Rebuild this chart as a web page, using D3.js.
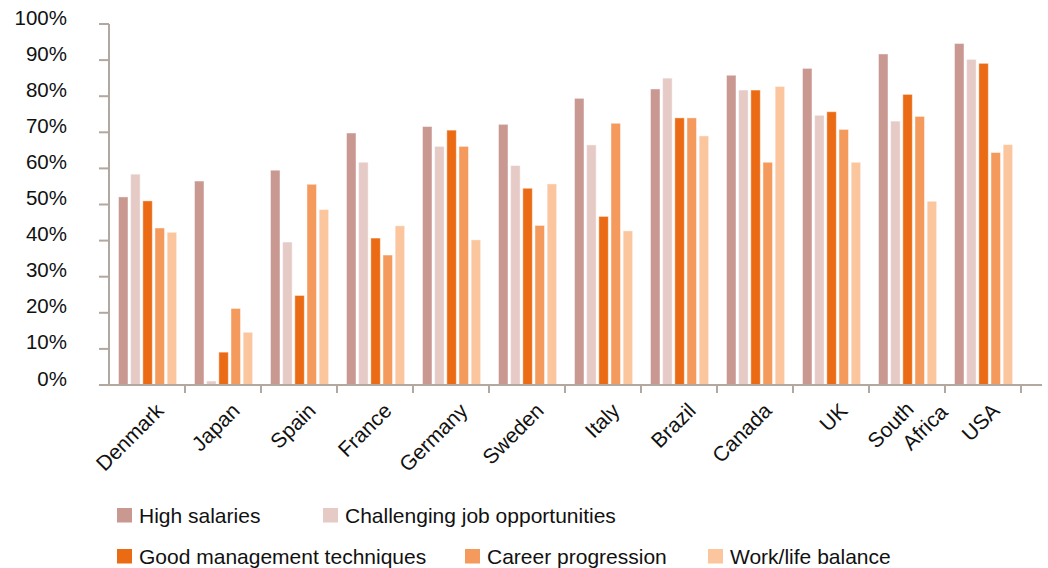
<!DOCTYPE html>
<html>
<head>
<meta charset="utf-8">
<script src="https://cdn.jsdelivr.net/npm/d3@7/dist/d3.min.js"></script>
<style>
  html, body { margin: 0; padding: 0; background: #fff; }
  svg { display: block; }
  text { font-family: "Liberation Sans", Arial, Helvetica, sans-serif; fill: #111; }
</style>
</head>
<body>
<svg id="chart" width="1048" height="568"></svg>
<script>
const categories = ["Denmark", "Japan", "Spain", "France", "Germany", "Sweden", "Italy", "Brazil", "Canada", "UK", "South Africa", "USA"];
const seriesNames = ["High salaries", "Challenging job opportunities", "Good management techniques", "Career progression", "Work/life balance"];
const highSalaries = [52.1, 56.5, 59.5, 69.8, 71.6, 72.2, 79.4, 82.0, 85.8, 87.7, 91.7, 94.6];
const challengingJobs = [58.4, 1.1, 39.6, 61.7, 66.1, 60.8, 66.5, 85.0, 81.7, 74.7, 73.1, 90.2];
const goodManagement = [51.0, 9.1, 24.8, 40.7, 70.6, 54.5, 46.7, 74.0, 81.7, 75.7, 80.5, 89.1];
const careerProgression = [43.5, 21.2, 55.6, 36.0, 66.1, 44.2, 72.5, 74.0, 61.7, 70.8, 74.4, 64.4];
const workLifeBalance = [42.3, 14.6, 48.6, 44.1, 40.2, 55.7, 42.7, 69.0, 82.7, 61.7, 50.9, 66.6];
const yTickValues = [0, 10, 20, 30, 40, 50, 60, 70, 80, 90, 100];
const yTickLabels = ["0%", "10%", "20%", "30%", "40%", "50%", "60%", "70%", "80%", "90%", "100%"];

const seriesValues = [highSalaries, challengingJobs, goodManagement, careerProgression, workLifeBalance];
const colors = ["#c99891", "#e5cac6", "#eb6a14", "#f49a5c", "#fbc69e"];
const axisColor = "#b3a89f";

const svg = d3.select("#chart");

const plot = { left: 109, right: 1021, top: 24, bottom: 385 };

const x0 = d3.scaleBand().domain(categories).range([plot.left, plot.right]).paddingInner(0).paddingOuter(0);
const bw = x0.bandwidth();
const x1 = d3.scaleBand().domain(seriesNames).range([bw * 0.125, bw * 0.89]).paddingInner(0.22).paddingOuter(0);
const y = d3.scaleLinear().domain([0, 100]).range([plot.bottom, plot.top]);

// bars
const rows = categories.map((c, i) => ({ cat: c, vals: seriesNames.map((s, j) => ({ s, j, v: seriesValues[j][i] })) }));
const groups = svg.append("g").selectAll("g").data(rows).join("g")
  .attr("transform", d => `translate(${x0(d.cat)},0)`);
groups.selectAll("rect").data(d => d.vals).join("rect")
  .attr("x", d => x1(d.s))
  .attr("width", x1.bandwidth())
  .attr("y", d => y(d.v))
  .attr("height", d => y(0) - y(d.v))
  .attr("fill", d => colors[d.j])
  .attr("stroke", "#fff")
  .attr("stroke-opacity", 0.45)
  .attr("stroke-width", 1);

// y axis
const yAxis = svg.append("g");
yAxis.append("line")
  .attr("x1", plot.left).attr("x2", plot.left)
  .attr("y1", y(100)).attr("y2", y(0))
  .attr("stroke", axisColor).attr("stroke-width", 2);
yAxis.selectAll("line.tick").data(yTickValues).join("line").attr("class", "tick")
  .attr("x1", plot.left - 10).attr("x2", plot.left)
  .attr("y1", d => y(d)).attr("y2", d => y(d))
  .attr("stroke", axisColor).attr("stroke-width", 2);
yAxis.selectAll("text").data(yTickValues).join("text")
  .attr("x", 67).attr("y", d => y(d) + 0.5)
  .attr("text-anchor", "end")
  .attr("font-size", "20.5px")
  .text((d, i) => yTickLabels[i]);

// x axis
const xAxis = svg.append("g");
xAxis.append("line")
  .attr("x1", plot.left - 9).attr("x2", plot.right + 21)
  .attr("y1", y(0)).attr("y2", y(0))
  .attr("stroke", axisColor).attr("stroke-width", 2);
const boundaries = categories.map(c => x0(c) + bw);
xAxis.selectAll("line.tick").data(boundaries).join("line").attr("class", "tick")
  .attr("x1", d => d).attr("x2", d => d)
  .attr("y1", y(0)).attr("y2", y(0) + 8)
  .attr("stroke", axisColor).attr("stroke-width", 2);

const labels = xAxis.selectAll("g.lab").data(categories).join("g").attr("class", "lab")
  .attr("transform", d => `translate(${x0(d) + bw / 2 + 18},${y(0) + 27}) rotate(-45)`);
labels.each(function(d) {
  const g = d3.select(this);
  const parts = d === "South Africa" ? ["South", "Africa"] : [d];
  const mid = (parts.length - 1) / 2;
  parts.forEach((p, k) => {
    const off = parts.length > 1 ? k - mid : 0;
    const along = parts.length > 1 ? off * 22 + 5 : 0;
    const perp = parts.length > 1 ? off * 26 + 5 : 0;
    g.append("text")
      .attr("x", along)
      .attr("y", perp)
      .attr("text-anchor", "end")
      .attr("font-size", "21px")
      .text(p);
  });
});

// legend
const legendPos = [[117, 508], [323, 508], [117, 549], [465, 549], [708, 549]];
const legend = svg.append("g").selectAll("g").data(seriesNames).join("g")
  .attr("transform", (d, i) => `translate(${legendPos[i][0]},${legendPos[i][1]})`);
legend.append("rect")
  .attr("width", 15).attr("height", 14.5)
  .attr("fill", (d, i) => colors[i]);
legend.append("text")
  .attr("x", 22).attr("y", 14.5)
  .attr("font-size", "21px")
  .text(d => d);
</script>
</body>
</html>
